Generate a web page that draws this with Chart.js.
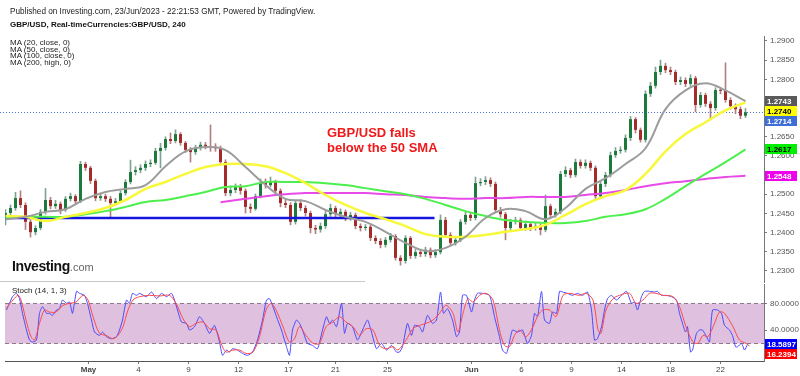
<!DOCTYPE html>
<html>
<head>
<meta charset="utf-8">
<script src="https://cdn.jsdelivr.net/npm/chart.js@4.4.0/dist/chart.umd.min.js"></script>
<style>
  body { margin: 0; background: #fff; width: 800px; height: 376px; overflow: hidden; position: relative;
         font-family: 'Liberation Sans', Arial, sans-serif; }
  canvas { position: absolute; left: 0; }
  #top { top: 0; }
  #bot { top: 283px; }
  .t { position: absolute; white-space: nowrap; color: #222; font-size: 8px; line-height: 8px; }
  #sep { position: absolute; left: 0; top: 281px; width: 365px; height: 1px; background: #c8c8c8; }
</style>
</head>
<body>
<canvas id="top" width="800" height="283"></canvas>
<canvas id="bot" width="800" height="93"></canvas>
<div id="sep"></div>
<div class="t" style="left:10px;top:8px;font-size:8.2px;">Published on Investing.com, 23/Jun/2023 - 22:21:53 GMT, Powered by TradingView.</div>
<div class="t" style="left:10px;top:21px;font-weight:bold;color:#111;">GBP/USD, Real-timeCurrencies:GBP/USD, 240</div>
<div class="t" style="left:10px;top:39px;">MA (20, close, 0)</div>
<div class="t" style="left:10px;top:45.5px;">MA (50, close, 0)</div>
<div class="t" style="left:10px;top:52px;">MA (100, close, 0)</div>
<div class="t" style="left:10px;top:58.5px;">MA (200, high, 0)</div>
<div class="t" style="left:327px;top:125px;font-size:13px;line-height:15px;font-weight:bold;color:#f01818;">GBP/USD falls<br>below the 50 SMA</div>
<div class="t" style="left:12px;top:259px;font-size:14px;line-height:14px;font-weight:bold;color:#111;letter-spacing:-0.4px;">Investing<span style="font-size:11px;font-weight:normal;color:#666;letter-spacing:0">.com</span></div>
<div class="t" style="left:12px;top:287px;">Stoch (14, 1, 3)</div>
<script>
// 4h candles (index = candle position)
const opens = [1.2435,1.2451,1.2464,1.2490,1.2472,1.2428,1.2401,1.2412,1.2454,1.2485,
 1.2469,1.2475,1.2459,1.2488,1.2495,1.2482,1.2579,1.2569,1.2535,1.2490,
 1.2495,1.2488,1.2477,1.2482,1.2503,1.2532,1.2558,1.2563,1.2569,1.2579,
 1.2582,1.2613,1.2621,1.2644,1.2639,1.2657,1.2634,1.2616,1.2610,1.2621,
 1.2629,1.2626,1.2623,1.2620,1.2584,1.2503,1.2511,1.2519,1.2509,1.2467,
 1.2462,1.2495,1.2532,1.2524,1.2532,1.2509,1.2477,1.2472,1.2428,1.2477,
 1.2464,1.2451,1.2412,1.2408,1.2417,1.2448,1.2464,1.2448,1.2454,1.2438,
 1.2446,1.2417,1.2412,1.2415,1.2386,1.2378,1.2368,1.2381,1.2391,1.2334,
 1.2326,1.2386,1.2339,1.2349,1.2344,1.2355,1.2341,1.2349,1.2433,1.2394,
 1.2373,1.2381,1.2428,1.2446,1.2438,1.2529,1.2532,1.2537,1.2527,1.2459,
 1.2448,1.2412,1.2428,1.2433,1.2412,1.2422,1.2412,1.2417,1.2407,1.2469,
 1.2446,1.2454,1.2553,1.2563,1.2550,1.2584,1.2574,1.2582,1.2569,1.2495,
 1.2527,1.2550,1.2602,1.2613,1.2616,1.2647,1.2696,1.2668,1.2642,1.2762,
 1.2783,1.2819,1.2835,1.2824,1.2819,1.2793,1.2798,1.2788,1.2803,1.2733,
 1.2759,1.2736,1.2725,1.2772,1.2770,1.2746,1.2730,1.2722,1.2705];
const closes = [1.2451,1.2464,1.2490,1.2472,1.2428,1.2401,1.2412,1.2454,1.2485,1.2469,
 1.2475,1.2459,1.2488,1.2495,1.2482,1.2579,1.2569,1.2535,1.2490,1.2495,
 1.2488,1.2477,1.2482,1.2503,1.2532,1.2558,1.2563,1.2569,1.2579,1.2582,
 1.2613,1.2621,1.2644,1.2639,1.2657,1.2634,1.2616,1.2610,1.2621,1.2629,
 1.2626,1.2623,1.2620,1.2584,1.2503,1.2511,1.2519,1.2509,1.2467,1.2462,
 1.2495,1.2532,1.2524,1.2532,1.2509,1.2477,1.2472,1.2428,1.2477,1.2464,
 1.2451,1.2412,1.2408,1.2417,1.2448,1.2464,1.2448,1.2454,1.2438,1.2446,
 1.2417,1.2412,1.2415,1.2386,1.2378,1.2368,1.2381,1.2391,1.2334,1.2326,
 1.2386,1.2339,1.2349,1.2344,1.2355,1.2341,1.2349,1.2433,1.2394,1.2373,
 1.2381,1.2428,1.2446,1.2438,1.2529,1.2532,1.2537,1.2527,1.2459,1.2448,
 1.2412,1.2428,1.2433,1.2412,1.2422,1.2412,1.2417,1.2407,1.2469,1.2446,
 1.2454,1.2553,1.2563,1.2550,1.2584,1.2574,1.2582,1.2569,1.2495,1.2527,
 1.2550,1.2602,1.2613,1.2616,1.2647,1.2696,1.2668,1.2642,1.2762,1.2783,
 1.2819,1.2835,1.2824,1.2819,1.2793,1.2798,1.2788,1.2803,1.2733,1.2759,
 1.2736,1.2725,1.2772,1.2770,1.2746,1.2730,1.2722,1.2705,1.2714];
const highs = [1.2460,1.2472,1.2505,1.2509,1.2478,1.2433,1.2418,1.2460,1.2515,1.2492,
 1.2484,1.2480,1.2494,1.2503,1.2499,1.2586,1.2584,1.2573,1.2540,1.2502,
 1.2500,1.2494,1.2489,1.2509,1.2538,1.2589,1.2572,1.2577,1.2587,1.2590,
 1.2620,1.2633,1.2650,1.2660,1.2668,1.2661,1.2638,1.2622,1.2628,1.2636,
 1.2635,1.2681,1.2632,1.2626,1.2590,1.2522,1.2527,1.2526,1.2514,1.2475,
 1.2501,1.2540,1.2540,1.2545,1.2537,1.2514,1.2486,1.2478,1.2483,1.2486,
 1.2470,1.2456,1.2419,1.2425,1.2455,1.2474,1.2469,1.2462,1.2459,1.2453,
 1.2451,1.2423,1.2421,1.2420,1.2392,1.2384,1.2387,1.2398,1.2395,1.2340,
 1.2392,1.2390,1.2356,1.2355,1.2362,1.2360,1.2356,1.2446,1.2440,1.2400,
 1.2389,1.2434,1.2453,1.2452,1.2545,1.2541,1.2546,1.2543,1.2532,1.2466,
 1.2453,1.2435,1.2440,1.2438,1.2430,1.2427,1.2425,1.2423,1.2498,1.2474,
 1.2462,1.2560,1.2572,1.2568,1.2592,1.2590,1.2590,1.2587,1.2574,1.2533,
 1.2557,1.2610,1.2622,1.2624,1.2655,1.2703,1.2700,1.2673,1.2770,1.2792,
 1.2832,1.2850,1.2842,1.2832,1.2824,1.2806,1.2804,1.2812,1.2808,1.2766,
 1.2764,1.2742,1.2778,1.2779,1.2843,1.2752,1.2736,1.2728,1.2724];
const lows = [1.2420,1.2444,1.2458,1.2465,1.2408,1.2388,1.2394,1.2407,1.2448,1.2462,
 1.2463,1.2449,1.2455,1.2482,1.2476,1.2478,1.2562,1.2528,1.2483,1.2484,
 1.2481,1.2441,1.2472,1.2478,1.2498,1.2527,1.2550,1.2556,1.2562,1.2572,
 1.2578,1.2569,1.2615,1.2632,1.2634,1.2628,1.2609,1.2584,1.2604,1.2615,
 1.2618,1.2612,1.2612,1.2578,1.2496,1.2496,1.2504,1.2500,1.2451,1.2452,
 1.2458,1.2490,1.2516,1.2519,1.2502,1.2467,1.2465,1.2420,1.2422,1.2457,
 1.2443,1.2399,1.2397,1.2401,1.2411,1.2442,1.2441,1.2440,1.2431,1.2432,
 1.2410,1.2404,1.2406,1.2379,1.2371,1.2360,1.2362,1.2375,1.2328,1.2315,
 1.2320,1.2332,1.2333,1.2337,1.2338,1.2334,1.2335,1.2344,1.2388,1.2366,
 1.2367,1.2376,1.2422,1.2431,1.2433,1.2522,1.2525,1.2520,1.2452,1.2440,
 1.2381,1.2405,1.2422,1.2405,1.2406,1.2405,1.2406,1.2394,1.2402,1.2440,
 1.2440,1.2449,1.2546,1.2543,1.2545,1.2568,1.2568,1.2562,1.2485,1.2489,
 1.2520,1.2545,1.2596,1.2607,1.2610,1.2640,1.2660,1.2636,1.2636,1.2755,
 1.2777,1.2812,1.2817,1.2812,1.2786,1.2786,1.2781,1.2782,1.2715,1.2727,
 1.2729,1.2694,1.2719,1.2762,1.2740,1.2722,1.2710,1.2697,1.2700];

// moving averages, read every 4th candle
const maIdx = [0,4,8,12,16,20,24,28,32,36,40,44,48,52,56,60,64,68,72,76,80,84,88,92,96,100,104,108,112,116,120,124,128,132,136,140,144,148];
const ma20 = [1.2435,1.2441,1.2454,1.2461,1.2488,1.2506,1.2514,1.2524,1.2573,1.2612,1.2623,1.2615,1.2571,1.2524,1.2488,1.2482,1.2459,1.2441,1.2428,1.2402,1.2373,1.2352,1.2360,1.2389,1.2438,1.2461,1.2456,1.2435,1.2464,1.2514,1.2542,1.2579,1.2620,1.2722,1.2771,1.2790,1.2771,1.2743];
const ma50 = [1.2443,1.2441,1.2430,1.2441,1.2451,1.2464,1.2485,1.2514,1.2532,1.2553,1.2571,1.2579,1.2579,1.2573,1.2555,1.2529,1.2498,1.2472,1.2451,1.2435,1.2417,1.2396,1.2389,1.2389,1.2394,1.2402,1.2409,1.2420,1.2446,1.2474,1.2495,1.2511,1.2553,1.2612,1.2657,1.2688,1.2719,1.2740];
const ma100 = [1.2438,1.2441,1.2441,1.2441,1.2448,1.2456,1.2467,1.2480,1.2485,1.2495,1.2506,1.2519,1.2521,1.2532,1.2532,1.2532,1.2529,1.2524,1.2516,1.2508,1.2500,1.2488,1.2472,1.2456,1.2443,1.2433,1.2428,1.2425,1.2425,1.2430,1.2441,1.2448,1.2461,1.2488,1.2521,1.2553,1.2584,1.2617];
const ma200Idx = [43,48,52,56,60,64,68,72,76,80,84,88,92,96,100,104,108,112,116,120,124,128,132,136,140,144,148];
const ma200 = [1.2479,1.2488,1.2495,1.2500,1.2503,1.2503,1.2503,1.2503,1.2500,1.2498,1.2493,1.2490,1.2488,1.2490,1.2490,1.2493,1.2493,1.2493,1.2498,1.2503,1.2511,1.2521,1.2529,1.2534,1.2540,1.2545,1.2548];

// horizontal support
const supportLevel = 1.2438;
const supportSpan = [-0.1, 85.8];

// stochastic %K (blue) and %D (red)
const kIdx = [0.2,0.8,1.4,2.2,2.8,3.4,4.2,4.8,5.4,6.2,6.8,7.4,8.2,8.8,9.4,10.2,10.8,11.4,12.2,12.8,
 13.4,14.2,14.8,15.8,16.4,17.2,17.8,18.8,19.4,20.2,21.2,22.2,22.8,23.4,24.2,24.8,25.4,26.2,26.8,28.2,
 29.2,30.2,31.2,32.2,33.2,33.8,34.4,35.2,36.2,36.8,37.8,38.8,39.8,40.8,41.8,42.8,43.4,44.2,44.8,45.4,
 46.4,47.4,48.4,49.4,50.4,51.4,52.2,52.8,53.4,54.2,55.2,56.2,56.8,57.4,58.2,58.8,59.4,60.4,61.4,62.4,
 63.4,64.2,64.8,65.4,66.2,67.2,67.8,68.4,69.4,70.4,71.4,72.4,73.2,74.2,75.2,76.2,77.2,78.2,78.8,79.4,
 80.4,81.2,81.8,82.8,83.4,84.4,85.4,86.2,87,87.6,88.4,89.4,90.2,90.8,91.4,92.2,93.2,93.8,94.4,95.4,
 96.8,97.8,98.8,99.4,100.2,100.8,101.4,102.4,103.4,104.4,105.2,105.8,106.4,107.2,107.8,108.8,109.4,110.2,110.8,111.4,
 112.4,113.4,114.4,115.4,116.4,117.2,117.8,118.4,119.2,119.8,120.4,121.2,122.2,123.2,124.2,125.2,125.8,126.4,127.2,127.8,
 128.8,129.8,130.4,131.2,132.2,133.2,134.2,134.8,135.4,136,136.4,137,137.4,138.2,138.8,139.4,140.2,140.8,141.4,142.4,
 143.2,143.8,144.8,145.4,146,146.4,147.2,147.8,148.4];
const kVal = [70,80,90,95,87,65,40,25,22,25,65,75,65,65,62,70,72,85,80,82,
 65,98,95,92,80,55,37,32,37,30,27,30,40,55,85,80,95,92,95,90,
 97,87,95,90,95,85,70,52,50,40,45,60,50,35,47,22,2,10,7,12,
 10,5,2,7,25,55,85,87,77,60,40,15,2,40,55,50,40,20,17,12,
 40,60,50,55,45,80,35,50,45,25,40,55,37,12,20,10,17,7,7,15,
 50,32,47,45,37,62,50,55,97,65,72,55,30,37,92,92,67,85,95,95,
 92,60,30,10,5,22,40,37,40,20,32,65,60,98,55,50,67,65,98,97,
 95,92,95,92,97,70,25,27,45,70,87,92,85,92,98,80,82,70,90,98,
 98,97,98,92,92,90,85,65,50,37,45,7,10,35,40,40,30,22,70,70,
 65,47,40,32,15,15,20,10,18.5897];
const dIdx = [0.1,1.5,2.5,3.1,4.1,5.1,5.8,6.8,7.8,8.8,10.1,11.5,12.8,14.1,15.5,16.5,17.5,18.8,20.1,21.5,
 22.5,23.5,24.5,25.5,26.8,28.8,30.8,32.8,34.1,35.5,36.8,38.1,39.5,40.8,42.1,43.1,44.1,45.5,46.8,48.1,
 49.5,50.8,52.1,53.1,54.1,55.5,56.8,57.8,58.8,60.1,61.5,62.8,64.1,65.5,66.8,68.1,69.5,70.8,72.1,73.5,
 74.8,76.1,77.5,78.5,80.1,81.5,82.8,84.1,85.5,86.8,88.1,89.5,90.5,91.5,92.5,93.5,94.8,96.1,97.5,98.8,
 99.8,100.8,101.8,102.8,104.1,105.5,106.5,107.5,108.8,110.1,111.5,112.8,114.8,116.1,117.5,118.5,119.1,120.1,121.5,122.8,
 124.8,126.1,127.5,128.8,130.1,131.5,133.5,134.8,136.1,137.5,138.5,139.5,140.5,141.8,142.8,143.8,145.5,146.8,148.1,148.8];
const dVal = [72,85,92,85,55,30,25,50,70,67,67,77,80,82,92,85,60,35,32,27,
 32,45,70,85,90,92,91,92,80,57,45,50,52,42,40,20,7,10,10,5,
 7,30,70,80,70,45,22,27,45,32,20,20,45,52,60,52,45,32,42,40,
 17,12,15,10,25,42,47,50,55,65,77,65,37,65,87,82,92,95,85,40,
 17,15,32,40,30,45,62,70,70,60,92,95,92,95,85,40,35,70,87,92,
 95,80,85,95,95,92,90,75,45,22,20,32,30,50,67,65,45,25,20,16.2394];

// axes
const priceTicks = [1.23,1.235,1.24,1.245,1.25,1.255,1.26,1.265,1.27,1.275,1.28,1.285,1.29];
const stochTicks = [40, 80];
const xTickIdx = [16.6,26.6,36.6,46.6,56.6,66,76.4,93.2,103.2,113.2,123.2,133,143];
const xTickLabels = ['May','4','9','12','17','21','25','Jun','6','9','14','18','22'];

const FONT = "'Liberation Sans', Arial, sans-serif";
const X_MIN = -0.1, X_MAX = 151.7;
const GREEN = '#1b7a3c', RED = '#a52a2a', WICK_G = '#7fa391', WICK_R = '#b47f7f';
const xy = (xs, ys) => xs.map((x, i) => ({ x, y: ys[i] }));
const up = i => closes[i] >= opens[i];
const candleIdx = closes.map((_, i) => i);
const last = arr => arr[arr.length - 1];

function drawTags(chart, scaleId, tags, digits) {
  const ctx = chart.ctx, s = chart.scales[scaleId];
  const items = tags.map(t => ({ ...t, y: s.getPixelForValue(t.v) })).sort((a, b) => a.y - b.y);
  for (let i = 1; i < items.length; i++) {
    if (items[i].y < items[i - 1].y + 10) items[i].y = items[i - 1].y + 10;
  }
  ctx.save();
  ctx.font = 'bold 8px ' + FONT;
  ctx.textBaseline = 'middle';
  items.forEach(t => {
    ctx.fillStyle = t.bg;
    ctx.fillRect(s.left + 1, Math.round(t.y) - 5, 32, 10);
    ctx.fillStyle = t.fg;
    ctx.fillText(t.v.toFixed(digits), s.left + 3, Math.round(t.y) + 0.5);
  });
  ctx.restore();
}

const priceOverlay = {
  id: 'priceOverlay',
  beforeDatasetsDraw(chart) {
    const { ctx, chartArea: a } = chart;
    const y = Math.round(chart.scales.y.getPixelForValue(last(closes))) + 0.5;
    ctx.save();
    ctx.strokeStyle = '#4a72d8';
    ctx.lineWidth = 1;
    ctx.setLineDash([1, 2]);
    ctx.beginPath(); ctx.moveTo(0, y); ctx.lineTo(a.right, y); ctx.stroke();
    ctx.restore();
  },
  afterDraw(chart) {
    drawTags(chart, 'y', [
      { v: last(ma20), bg: '#5a5a5a', fg: '#fff' },
      { v: last(ma50), bg: '#ffff00', fg: '#000' },
      { v: last(closes), bg: '#3f6fd6', fg: '#fff' },
      { v: last(ma100), bg: '#00ee00', fg: '#000' },
      { v: last(ma200), bg: '#ee00ee', fg: '#fff' }
    ], 4);
  }
};

const stochOverlay = {
  id: 'stochOverlay',
  beforeDatasetsDraw(chart) {
    const { ctx, chartArea: a } = chart, s = chart.scales.y;
    const y80 = Math.round(s.getPixelForValue(80)) + 0.5, y20 = Math.round(s.getPixelForValue(20)) + 0.5;
    ctx.save();
    ctx.fillStyle = '#dfc0df';
    ctx.fillRect(a.left, y80, a.right - a.left, y20 - y80);
    ctx.strokeStyle = '#8a7a8a';
    ctx.setLineDash([4, 3]);
    ctx.lineWidth = 1;
    [y80, y20].forEach(y => { ctx.beginPath(); ctx.moveTo(a.left, y); ctx.lineTo(a.right, y); ctx.stroke(); });
    ctx.restore();
  },
  afterDraw(chart) {
    drawTags(chart, 'y', [
      { v: last(kVal), bg: '#0000ff', fg: '#fff' },
      { v: last(dVal), bg: '#ff0000', fg: '#fff' }
    ], 4);
  }
};

// fixed axis sizes, no label padding, so both panels line up with the reference
const fixY = s => { s.width = 36; s.paddingTop = 0; s.paddingBottom = 0; };
const fixX = s => { s.height = 15; s.paddingLeft = 0; s.paddingRight = 0; };
const axisGrid = { display: true, drawOnChartArea: false, drawTicks: true, tickLength: 3, color: '#777' };
const tickFont = { family: FONT, size: 8 };

Chart.defaults.font.family = FONT;

new Chart(document.getElementById('top'), {
  type: 'bar',
  data: {
    datasets: [
      { type: 'line', data: xy(maIdx, ma20), borderColor: '#9c9c9c', borderWidth: 2, pointRadius: 0, tension: 0.4, order: 0 },
      { type: 'line', data: xy(maIdx, ma50), borderColor: '#f8f83a', borderWidth: 2.5, pointRadius: 0, tension: 0.4, order: 0 },
      { type: 'line', data: xy(maIdx, ma100), borderColor: '#4def4d', borderWidth: 2, pointRadius: 0, tension: 0.4, order: 0 },
      { type: 'line', data: xy(ma200Idx, ma200), borderColor: '#e84ae8', borderWidth: 2, pointRadius: 0, tension: 0.4, order: 0 },
      { type: 'line', data: supportSpan.map(x => ({ x, y: supportLevel })), borderColor: '#1515e0', borderWidth: 2.5, pointRadius: 0, order: 0 },
      { data: candleIdx.map(i => ({ x: i, y: [lows[i], highs[i]] })),
        backgroundColor: c => up(c.dataIndex) ? WICK_G : WICK_R, barThickness: 1, grouped: false, order: 3 },
      { data: candleIdx.map(i => ({ x: i, y: [opens[i], closes[i]] })),
        backgroundColor: c => up(c.dataIndex) ? GREEN : RED, barPercentage: 0.6, categoryPercentage: 1,
        grouped: false, minBarLength: 1, order: 2 }
    ]
  },
  options: {
    responsive: false, animation: false, events: [],
    layout: { padding: { left: 5, top: 36, right: 0, bottom: 1 } },
    plugins: { legend: { display: false }, tooltip: { enabled: false } },
    scales: {
      x: { type: 'linear', min: X_MIN, max: X_MAX, offset: false, display: false },
      y: {
        position: 'right', min: 1.2271, max: 1.2913, afterFit: fixY,
        afterBuildTicks: s => { s.ticks = priceTicks.map(value => ({ value })); },
        grid: axisGrid, border: { display: true, color: '#777' },
        ticks: { font: tickFont, color: '#555', padding: 3, callback: v => v.toFixed(4) }
      }
    }
  },
  plugins: [priceOverlay]
});

new Chart(document.getElementById('bot'), {
  type: 'line',
  data: {
    datasets: [
      { data: xy(dIdx, dVal), borderColor: '#ff4a4a', borderWidth: 1, pointRadius: 0, tension: 0.3 },
      { data: xy(kIdx, kVal), borderColor: '#4a4aff', borderWidth: 1, pointRadius: 0, tension: 0.2 }
    ]
  },
  options: {
    responsive: false, animation: false, events: [],
    layout: { padding: { left: 5, top: 1, right: 0, bottom: 0 } },
    plugins: { legend: { display: false }, tooltip: { enabled: false } },
    scales: {
      x: {
        type: 'linear', min: X_MIN, max: X_MAX, offset: false, afterFit: fixX,
        afterBuildTicks: s => { s.ticks = xTickIdx.map(value => ({ value })); },
        grid: axisGrid, border: { display: true, color: '#555' },
        ticks: {
          color: '#444', padding: 1, maxRotation: 0, autoSkip: false,
          font: c => ({ family: FONT, size: 8, weight: /^[A-Z]/.test(xTickLabels[c.index] || '') ? 'bold' : 'normal' }),
          callback: (v, i) => xTickLabels[i]
        }
      },
      y: {
        position: 'right', min: -6.4, max: 109, afterFit: fixY,
        afterBuildTicks: s => { s.ticks = stochTicks.map(value => ({ value })); },
        grid: axisGrid, border: { display: true, color: '#777' },
        ticks: { font: tickFont, color: '#555', padding: 3, callback: v => v.toFixed(4) }
      }
    }
  },
  plugins: [stochOverlay]
});
</script>
</body>
</html>
